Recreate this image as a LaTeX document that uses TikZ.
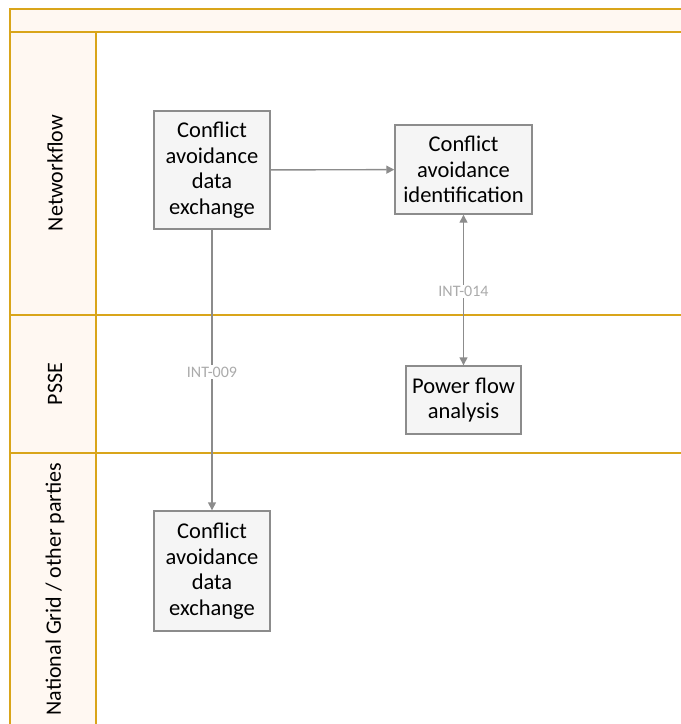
\documentclass[tikz,border=0pt]{standalone}
\usepackage{fontspec}
\setmainfont{Carlito}
\usetikzlibrary{arrows.meta,positioning}
\definecolor{laneline}{HTML}{D9A51A}
\definecolor{lanefill}{HTML}{FFF8F2}
\definecolor{boxfill}{HTML}{F5F5F5}
\definecolor{boxline}{HTML}{8C8C8C}
\definecolor{flowline}{HTML}{8C8C8C}
\definecolor{tagtext}{HTML}{ABABAB}
\tikzset{
  lane/.style={draw=laneline,line width=1.6pt},
  proc/.style={draw=boxline,fill=boxfill,line width=1.4pt,align=center,
    inner sep=0pt,font=\fontsize{22.5}{25.5}\selectfont},
  flow/.style={draw=flowline,line width=1.4pt,-{Triangle[length=8pt,width=8pt]}},
  tag/.style={fill=white,text=tagtext,inner sep=1.5pt,font=\fontsize{16}{18}\selectfont},
  lanelabel/.style={rotate=90,font=\fontsize{22}{24}\selectfont}
}

\begin{document}
\begin{tikzpicture}[x=1pt,y=-1pt,line cap=butt,line join=miter]
  \useasboundingbox (0,0) rectangle (681,724);

  % swimlane background
  \fill[lanefill] (10,9) rectangle (681,32);
  \fill[lanefill] (10,32) rectangle (96,724);
  \draw[lane] (681,9) -- (10,9) -- (10,724);
  \draw[lane] (96,32) -- (96,724);
  \foreach \y in {32,315,453}
    \draw[lane] (10,\y) -- (681,\y);

  % lane titles
  \node[lanelabel] (lnNet) at (55,173) {Networkflow};
  \node[lanelabel] (lnPsse) at (55,384) {PSSE};
  \node[lanelabel] (lnGrid) at (55,589) {National Grid / other parties};

  % processes
  \node[proc,minimum width=116pt,minimum height=118pt] (cadNet) at (212,170)
    {Conflict\\avoidance\\data\\exchange};
  \node[proc,minimum width=137pt,minimum height=89pt] (caiNet) at (463.5,169.5)
    {Conflict\\avoidance\\identification};
  \node[proc,minimum width=115pt,minimum height=68pt] (pfaPsse) at (463.5,400)
    {Power flow\\analysis};
  \node[proc,minimum width=116pt,minimum height=120pt] (cadGrid) at (212,571)
    {Conflict\\avoidance\\data\\exchange};

  % interfaces
  \draw[flow] (cadNet) -- (caiNet);
  \draw[flow] (cadNet) -- (cadGrid) node[tag,pos=0.507] {INT-009};
  \draw[flow,{Triangle[length=8pt,width=8pt]}-{Triangle[length=8pt,width=8pt]}]
    (caiNet) -- (pfaPsse) node[tag,pos=0.51] {INT-014};
\end{tikzpicture}
\end{document}
